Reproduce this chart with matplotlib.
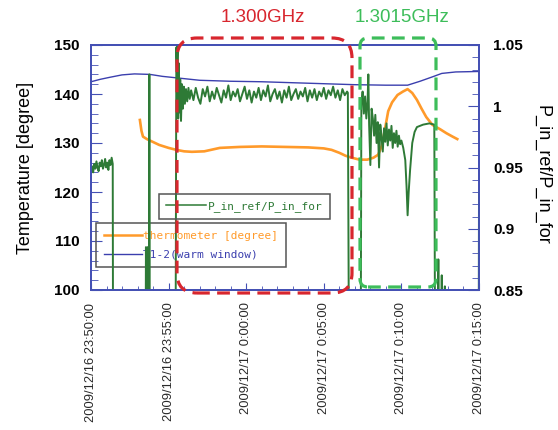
import matplotlib
matplotlib.use("Agg")
import matplotlib.pyplot as plt
from matplotlib.patches import FancyBboxPatch
from matplotlib.lines import Line2D
from matplotlib.font_manager import FontProperties
from matplotlib.ticker import FixedLocator, MultipleLocator

# ---------------- data (time in minutes after 2009/12/16 23:50:00) ----------------
x_tick_minutes = [0, 5, 10, 15, 20, 25]
x_tick_labels = ["2009/12/16 23:50:00", "2009/12/16 23:55:00", "2009/12/17 0:00:00",
                 "2009/12/17 0:05:00", "2009/12/17 0:10:00", "2009/12/17 0:15:00"]
left_ticks = [100, 110, 120, 130, 140, 150]
right_ticks = [0.85, 0.9, 0.95, 1.0, 1.05]
right_tick_labels = ["0.85", "0.9", "0.95", "1", "1.05"]

series_names = ["P_in_ref/P_in_for", "thermometer [degree]", "T1-2(warm window)"]
band_labels = ["1.300GHz", "1.3015GHz"]

# T1-2 (warm window) temperature
blue_t = [0, 0.6, 1.2, 2.0, 2.8, 3.8, 4.6, 5.5, 7.0, 9.0, 11.0, 13.0, 15.0, 17.0,
          19.0, 20.4, 21.2, 22.0, 22.6, 23.5, 25.0]
blue_v = [142.5, 143.0, 143.4, 143.9, 144.1, 144.0, 143.6, 143.3, 142.8, 142.6, 142.5,
          142.3, 142.1, 141.9, 141.8, 141.8, 142.6, 143.5, 144.2, 144.5, 144.6]

# thermometer
orange_t = [3.15, 3.25, 3.35, 3.60, 4.00, 4.40, 5.00, 5.50, 6.00, 6.50, 7.30, 8.30, 9.60,
            11.0, 12.5, 14.0, 15.0, 15.5, 16.0, 16.4, 16.8, 17.3, 17.8, 18.2, 18.5, 18.75,
            18.95, 19.15, 19.4, 19.75, 20.1, 20.4, 20.7, 21.0, 21.3, 21.6, 22.0, 22.5,
            22.9, 23.3, 23.6]
orange_v = [134.7, 132.5, 131.3, 130.8, 130.2, 129.6, 129.0, 128.6, 128.3, 128.2, 128.3,
            129.0, 129.2, 129.3, 129.2, 129.1, 128.9, 128.6, 128.0, 127.4, 127.0, 126.6,
            126.6, 127.0, 127.6, 129.5, 133.0, 136.5, 138.3, 139.8, 140.5, 141.0, 140.2,
            138.8, 137.0, 135.3, 133.7, 132.8, 132.0, 131.3, 130.8]

# P_in_ref / P_in_for (values under 0.85 fall below the axis)
green_t = [
    0.00, 0.07, 0.14, 0.21, 0.28, 0.35, 0.42, 0.49, 0.56, 0.63, 0.70, 0.77, 0.84, 0.91,
    0.98, 1.05, 1.12, 1.19, 1.26, 1.33, 1.40,
    1.42, 3.52, 3.54, 3.56, 3.63, 3.65, 3.67, 3.74, 3.76, 3.78, 5.45,
    5.50, 5.54, 5.58, 5.62, 5.66, 5.70, 5.75, 5.80, 5.86, 5.92, 5.98, 6.05, 6.12, 6.20,
    6.28, 6.36,
    6.45, 6.60, 6.75, 6.90, 7.05, 7.20, 7.35, 7.50, 7.65, 7.80, 7.95, 8.10, 8.25, 8.40,
    8.55, 8.70, 8.85, 9.00, 9.15, 9.30, 9.45, 9.60, 9.75, 9.90, 10.05, 10.20, 10.35,
    10.50, 10.65, 10.80, 10.95, 11.10, 11.25, 11.40, 11.55, 11.70, 11.85, 12.00, 12.15,
    12.30, 12.45, 12.60, 12.75, 12.90, 13.05, 13.20, 13.35, 13.50, 13.65, 13.80, 13.95,
    14.10, 14.25, 14.40, 14.55, 14.70, 14.85, 15.00, 15.15, 15.30, 15.45, 15.60, 15.75,
    15.90, 16.05, 16.20, 16.35, 16.50,
    16.55, 16.62, 17.38, 17.42, 17.50, 17.58, 17.66, 17.74, 17.82, 17.87, 17.92, 18.00,
    18.08, 18.16, 18.24, 18.32, 18.40, 18.48, 18.56, 18.64, 18.72, 18.80, 18.88, 18.96,
    19.04, 19.12, 19.20, 19.28, 19.36, 19.44, 19.52, 19.60, 19.68, 19.76, 19.84, 19.92,
    20.00,
    20.12, 20.25, 20.33, 20.40, 20.47, 20.56, 20.70, 20.85, 21.00, 21.40, 21.80, 22.12,
    22.17, 22.36, 22.38, 22.40, 22.58, 22.60, 22.62, 22.78, 22.80, 22.82, 24.98, 25.00]
green_v = [
    0.948, 0.951, 0.946, 0.953, 0.949, 0.955, 0.950, 0.947, 0.954, 0.951, 0.956, 0.949,
    0.952, 0.957, 0.950, 0.954, 0.948, 0.956, 0.952, 0.958, 0.953,
    0.80, 0.80, 0.885, 0.80, 0.80, 0.885, 0.80, 0.80, 1.026, 0.80, 0.80,
    1.048, 1.030, 1.050, 0.990, 1.035, 0.995, 1.022, 0.988, 1.018, 0.998, 1.016, 1.002,
    1.014, 1.004, 1.015, 1.006,
    1.013, 1.005, 1.015, 1.007, 1.002, 1.014, 1.008, 1.016, 1.004, 1.012,
    1.006, 1.015, 1.009, 1.003, 1.013, 1.007, 1.017, 1.005, 1.012, 1.008,
    1.014, 1.004, 1.010, 1.016, 1.006, 1.013, 1.003, 1.012, 1.007, 1.015,
    1.005, 1.013, 1.008, 1.017, 1.004, 1.010, 1.014, 1.006, 1.012, 1.003,
    1.013, 1.007, 1.016, 1.005, 1.010, 1.014, 1.006, 1.012, 1.008, 1.015,
    1.004, 1.013, 1.007, 1.014, 1.005, 1.012, 1.008, 1.015, 1.006, 1.013,
    1.009, 1.016, 1.007, 1.013, 1.005, 1.014, 1.009, 1.012,
    1.011, 0.80, 0.80, 1.002, 1.012, 0.994, 1.008, 0.990, 1.004, 1.026, 0.985, 0.952,
    0.998, 0.990, 0.976, 0.993, 0.970, 0.987, 0.950, 0.985, 0.975, 0.963, 0.982, 0.971,
    0.986, 0.968, 0.981, 0.972, 0.984, 0.966, 0.978, 0.970, 0.980, 0.967, 0.976, 0.969,
    0.972,
    0.966, 0.956, 0.935, 0.911, 0.930, 0.948, 0.970, 0.979, 0.983, 0.985, 0.986, 0.985,
    0.80, 0.80, 0.875, 0.80, 0.80, 0.862, 0.80, 0.80, 0.853, 0.80, 0.80, 0.93]

# ---------------- style ----------------
SPINE = "#4450b4"
BLUE = "#3b3fae"
ORANGE = "#ff9a2a"
GREEN = "#2e7a36"
RED_BOX = "#d8262e"
GREEN_BOX = "#3dbd5a"
SANS = "Liberation Sans"
MONO = FontProperties(family="DejaVu Sans Mono", size=8)

W, H = 558, 430
fig = plt.figure(figsize=(W / 100, H / 100), dpi=100)
fig.patch.set_facecolor("white")
L, R, T, B = 91, 479, 45, 290
ax = fig.add_axes([L / W, 1 - B / H, (R - L) / W, (B - T) / H])
ax2 = ax.twinx()

ax.plot(orange_t, orange_v, color=ORANGE, lw=1.9, zorder=3)
ax.plot(blue_t, blue_v, color=BLUE, lw=1.0, zorder=4)
ax2.plot(green_t, green_v, color=GREEN, lw=1.4)

ax.set_xlim(0, 25)
ax.set_ylim(100, 150)
ax2.set_ylim(0.85, 1.05)

ax.xaxis.set_major_locator(FixedLocator(x_tick_minutes))
ax.set_xticklabels(x_tick_labels, rotation=90, fontsize=9.3, color="#2a2a2a", family=SANS)
ax.xaxis.set_minor_locator(MultipleLocator(1))
ax.yaxis.set_major_locator(FixedLocator(left_ticks))
ax.yaxis.set_minor_locator(MultipleLocator(2))
ax.set_yticklabels([str(v) for v in left_ticks], fontsize=11, fontweight="bold", family=SANS)
ax2.yaxis.set_major_locator(FixedLocator(right_ticks))
ax2.yaxis.set_minor_locator(MultipleLocator(0.01))
ax2.set_yticklabels(right_tick_labels, fontsize=11, fontweight="bold", family=SANS)

ax.tick_params(axis="x", which="major", direction="in", length=5, color=SPINE, pad=9)
ax.tick_params(axis="x", which="minor", direction="in", length=3, color=SPINE)
ax.tick_params(axis="y", which="major", direction="in", length=8, color=SPINE, pad=8)
ax.tick_params(axis="y", which="minor", direction="in", length=5, color=SPINE)
ax2.tick_params(axis="y", which="major", direction="in", length=8, color=SPINE, pad=10)
ax2.tick_params(axis="y", which="minor", direction="in", length=5, color=SPINE)

for a in (ax, ax2):
    for s in a.spines.values():
        s.set_color(SPINE)
        s.set_linewidth(1.3)

ax.set_ylabel("Temperature [degree]", fontsize=13, family=SANS, va="center")
ax.yaxis.set_label_coords(-0.168, 0.5)
ax2.set_ylabel("P_in_ref/P_in_for", fontsize=13, family=SANS, rotation=270, va="center")
ax2.yaxis.set_label_coords(1.162, 0.47)

# legends (transparent frames)
h_green = Line2D([], [], color=GREEN, lw=1.1)
h_orange = Line2D([], [], color=ORANGE, lw=1.8)
h_blue = Line2D([], [], color=BLUE, lw=1.0)
leg1 = ax2.legend([h_green], [series_names[0]], loc="upper left",
                  bbox_to_anchor=(159 / W, 1 - 194 / H), bbox_transform=fig.transFigure,
                  borderaxespad=0, prop=MONO, labelcolor=[GREEN], handlelength=3.6,
                  handletextpad=0.15, borderpad=0.65, fancybox=False, framealpha=1,
                  facecolor="none", edgecolor="#555555")
leg1.get_frame().set_linewidth(1.1)
leg2 = ax.legend([h_orange, h_blue], series_names[1:], loc="upper left",
                 bbox_to_anchor=(96 / W, 1 - 223 / H), bbox_transform=fig.transFigure,
                 borderaxespad=0, prop=MONO, labelcolor=[ORANGE, BLUE], handlelength=3.4,
                 handletextpad=0.15, borderpad=0.7, labelspacing=0.8, fancybox=False,
                 framealpha=1, facecolor="none", edgecolor="#555555")
leg2.get_frame().set_linewidth(1.1)

# frequency bands (dashed rounded boxes) in figure inches
def band_box(x0, x1, ytop, ybot, r, color):
    p = FancyBboxPatch(((x0) / 100, (H - ybot) / 100), (x1 - x0) / 100, (ybot - ytop) / 100,
                       boxstyle=f"round,pad=0,rounding_size={r}", transform=fig.dpi_scale_trans,
                       fill=False, edgecolor=color, lw=2.3, linestyle=(0, (4, 2.3)), zorder=10)
    fig.add_artist(p)

band_box(177, 352, 38, 293, 0.2, RED_BOX)
band_box(360, 436, 38, 287, 0.08, GREEN_BOX)
fig.text(263 / W, 1 - 18 / H, band_labels[0], ha="center", va="center", color=RED_BOX,
         fontsize=13.5, family=SANS)
fig.text(402 / W, 1 - 18 / H, band_labels[1], ha="center", va="center", color=GREEN_BOX,
         fontsize=13.5, family=SANS)

fig.savefig("out.png", dpi=100, facecolor="white")
